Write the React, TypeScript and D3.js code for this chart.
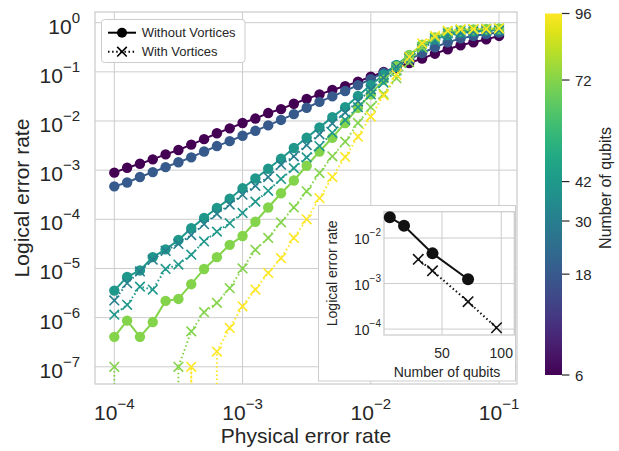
import React from "react";
import * as d3 from "d3";

// physical error rates (10 points per decade)
const physicalErrorRates = [
  1e-4, 1.259e-4, 1.585e-4, 1.995e-4, 2.512e-4, 3.162e-4, 3.981e-4, 5.012e-4, 6.31e-4, 7.943e-4,
  1e-3, 1.259e-3, 1.585e-3, 1.995e-3, 2.512e-3, 3.162e-3, 3.981e-3, 5.012e-3, 6.31e-3, 7.943e-3,
  1e-2, 1.259e-2, 1.585e-2, 1.995e-2, 2.512e-2, 3.162e-2, 3.981e-2, 5.012e-2, 6.31e-2, 7.943e-2,
  1e-1,
];

// logical error rates without vortices
const noVortex6 = [
  8.9e-4, 1.12e-3, 1.35e-3, 1.66e-3, 2.09e-3, 2.57e-3, 3.31e-3, 4.27e-3, 5.62e-3, 7.08e-3,
  9.12e-3, 1.12e-2, 1.45e-2, 1.74e-2, 2.24e-2, 2.82e-2, 3.47e-2, 4.27e-2, 5.13e-2, 6.31e-2,
  7.94e-2, 0.1, 0.12, 0.151, 0.186, 0.234, 0.288, 0.347, 0.398, 0.457, 0.537,
];
const noVortex18 = [
  4.68e-4, 5.62e-4, 7.24e-4, 9.12e-4, 1.15e-3, 1.45e-3, 1.82e-3, 2.4e-3, 3.09e-3, 3.89e-3,
  5.01e-3, 6.31e-3, 8.13e-3, 1.05e-2, 1.38e-2, 1.86e-2, 2.45e-2, 3.16e-2, 4.07e-2, 5.37e-2,
  7.08e-2, 9.55e-2, 0.132, 0.178, 0.24, 0.316, 0.398, 0.479, 0.537, 0.589, 0.631,
];
const noVortex42 = [
  3.55e-6, 6.76e-6, 9.12e-6, 1.7e-5, 2.45e-5, 3.8e-5, 6.61e-5, 1.07e-4, 1.7e-4, 2.63e-4,
  4.27e-4, 6.76e-4, 1.07e-3, 1.7e-3, 2.82e-3, 4.57e-3, 7.41e-3, 1.2e-2, 1.91e-2, 3.24e-2,
  5.37e-2, 8.71e-2, 0.138, 0.219, 0.331, 0.457, 0.562, 0.631, 0.661, 0.692, 0.708,
];
const noVortex72 = [
  4.07e-7, 8.71e-7, 4.07e-7, 8.13e-7, 2.19e-6, 2.4e-6, 4.79e-6, 9.77e-6, 1.7e-5, 3.02e-5,
  4.57e-5, 8.91e-5, 1.74e-4, 3.39e-4, 6.17e-4, 1.23e-3, 2.4e-3, 4.57e-3, 9.12e-3, 1.86e-2,
  3.47e-2, 6.92e-2, 0.129, 0.219, 0.355, 0.501, 0.631, 0.692, 0.724, 0.741, 0.759,
];

// logical error rates with vortices (0 = no logical error observed)
const vortex30 = [
  2.24e-6, 5.01e-6, 8.71e-6, 1.51e-5, 2.29e-5, 3.16e-5, 4.79e-5, 7.94e-5, 1.29e-4, 2.0e-4,
  3.16e-4, 4.79e-4, 7.24e-4, 1.29e-3, 1.91e-3, 3.24e-3, 5.37e-3, 8.91e-3, 1.48e-2, 2.51e-2,
  4.37e-2, 7.59e-2, 0.126, 0.2, 0.302, 0.417, 0.525, 0.603, 0.646, 0.676, 0.692,
];
const vortex42 = [
  1.15e-6, 1.82e-6, 4.27e-6, 3.72e-6, 9.77e-6, 1.2e-5, 1.91e-5, 3.55e-5, 5.62e-5, 8.32e-5,
  1.35e-4, 2.29e-4, 3.8e-4, 6.61e-4, 1.1e-3, 1.82e-3, 3.09e-3, 5.75e-3, 1.05e-2, 1.91e-2,
  3.47e-2, 6.03e-2, 0.107, 0.191, 0.316, 0.468, 0.603, 0.676, 0.708, 0.724, 0.741,
];
const vortex72 = [
  1e-7, 0, 0, 0, 0, 1e-7, 5.25e-7, 1.29e-6, 2.0e-6, 3.98e-6,
  1.0e-5, 2.4e-5, 4.17e-5, 8.71e-5, 1.74e-4, 3.72e-4, 8.71e-4, 1.91e-3, 3.8e-3, 9.12e-3,
  1.91e-2, 3.55e-2, 7.41e-2, 0.158, 0.316, 0.501, 0.661, 0.724, 0.741, 0.759, 0.767,
];
const vortex96 = [
  0, 0, 0, 0, 0, 0, 1e-7, 0, 2.04e-7, 6.17e-7,
  1.7e-6, 3.72e-6, 8.13e-6, 1.62e-5, 4.17e-5, 1.0e-4, 2.69e-4, 7.24e-4, 1.86e-3, 4.79e-3,
  1.23e-2, 3.31e-2, 8.71e-2, 0.2, 0.38, 0.537, 0.692, 0.733, 0.741, 0.741, 0.767,
];

const seriesNoVortex = [
  { qubits: 6, values: noVortex6 },
  { qubits: 18, values: noVortex18 },
  { qubits: 42, values: noVortex42 },
  { qubits: 72, values: noVortex72 },
];
const seriesVortex = [
  { qubits: 30, values: vortex30 },
  { qubits: 42, values: vortex42 },
  { qubits: 72, values: vortex72 },
  { qubits: 96, values: vortex96 },
];

// inset: logical error rate vs number of qubits
const insetQubitsNoVortex = [6, 18, 42, 72];
const insetErrNoVortex = [0.0285, 0.0186, 0.0046, 0.00124];
const insetQubitsVortex = [30, 42, 72, 96];
const insetErrVortex = [0.0034, 0.0019, 0.0004, 0.000107];

const xTicks = [1e-4, 1e-3, 1e-2, 1e-1];
const yTicks = [1, 1e-1, 1e-2, 1e-3, 1e-4, 1e-5, 1e-6, 1e-7];
const cbarTicks = [6, 18, 30, 42, 72, 96];
const cbarTickFrac = [0, 0.279, 0.426, 0.535, 0.816, 1];
const insetXTicks = [50, 100];
const insetYTicks = [1e-2, 1e-3, 1e-4];

const FONT = "Liberation Sans, Arial, Helvetica, sans-serif";
const TXT = "#262626";
const GRID = "#cccccc";

function expo(t: number) {
  const e = Math.round(Math.log10(t));
  return e < 0 ? "\u2212" + Math.abs(e) : String(e);
}

function cross(cx: number, cy: number, s: number) {
  return `M${cx - s},${cy - s}L${cx + s},${cy + s}M${cx - s},${cy + s}L${cx + s},${cy - s}`;
}

export default function App() {
  // main axes
  const x = d3.scaleLog().domain([Math.pow(10, -4.1505), Math.pow(10, -0.86)]).range([95, 517]);
  const y = d3.scaleLog().domain([Math.pow(10, -7.35), Math.pow(10, 0.217)]).range([384, 12]);
  const yv = (v: number) => (v > 0 ? y(v) : y(1e-300));
  const [x0, x1] = x.range();
  const [y0, y1] = y.range();

  const cFrac = d3.scaleLinear().domain(cbarTicks).range(cbarTickFrac);
  const color = (q: number) => d3.interpolateViridis(cFrac(q));

  const line = d3
    .line<number>()
    .x((_, i) => x(physicalErrorRates[i]))
    .y((v) => yv(v));

  // colorbar
  const cbY = d3.scaleLinear().domain([0, 1]).range([375, 13.5]);
  const cbX = 545, cbW = 17;
  const stops = d3.range(0, 1.0001, 0.05);

  // inset
  const ix = d3.scaleLinear().domain([1.1, 111]).range([384, 514.3]);
  const iy = d3.scaleLog().domain([Math.pow(10, -4.13), Math.pow(10, -1.422)]).range([335, 211.7]);
  const insetLine = d3.line<number[]>().x((d) => ix(d[0])).y((d) => iy(d[1]));
  const insetNV = insetQubitsNoVortex.map((q, i) => [q, insetErrNoVortex[i]]);
  const insetV = insetQubitsVortex.map((q, i) => [q, insetErrVortex[i]]);

  return (
    <svg width={619} height={451} style={{ position: "absolute", left: 0, top: 0, background: "#fff" }} fontFamily={FONT}>
      <defs>
        <clipPath id="plotClip">
          <rect x={x0} y={y1} width={x1 - x0} height={y0 - y1} />
        </clipPath>
        <linearGradient id="viridisGrad" x1="0" y1="1" x2="0" y2="0">
          {stops.map((t) => (
            <stop key={t} offset={t} stopColor={d3.interpolateViridis(t)} />
          ))}
        </linearGradient>
      </defs>
      <rect width={619} height={451} fill="#fff" />

      {/* grid */}
      {xTicks.map((t) => (
        <line key={"gx" + t} x1={x(t)} x2={x(t)} y1={y1} y2={y0} stroke={GRID} strokeWidth={1} />
      ))}
      {yTicks.map((t) => (
        <line key={"gy" + t} x1={x0} x2={x1} y1={y(t)} y2={y(t)} stroke={GRID} strokeWidth={1} />
      ))}
      <rect x={x0} y={y1} width={x1 - x0} height={y0 - y1} fill="none" stroke={GRID} strokeWidth={1.25} />

      {/* series */}
      <g clipPath="url(#plotClip)">
        {seriesNoVortex.map((s) => (
          <g key={"nv" + s.qubits}>
            <path d={line(s.values) || ""} fill="none" stroke={color(s.qubits)} strokeWidth={2} />
            {s.values.map((v, i) =>
              v > 0 ? <circle key={i} cx={x(physicalErrorRates[i])} cy={y(v)} r={5.2} fill={color(s.qubits)} /> : null
            )}
          </g>
        ))}
        {seriesVortex.map((s) => (
          <g key={"v" + s.qubits}>
            <path d={line(s.values) || ""} fill="none" stroke={color(s.qubits)} strokeWidth={2} strokeDasharray="1.5,2.6" />
            {s.values.map((v, i) =>
              v > 0 ? (
                <path key={i} d={cross(x(physicalErrorRates[i]), y(v), 4.8)} stroke={color(s.qubits)} strokeWidth={1.6} fill="none" />
              ) : null
            )}
          </g>
        ))}
      </g>

      {/* tick labels */}
      {xTicks.map((t) => (
        <text key={"tx" + t} x={x(t)} y={420} textAnchor="middle" fontSize={21} fill={TXT}>
          <tspan>10</tspan>
          <tspan dy={-11} fontSize={15}>{expo(t)}</tspan>
        </text>
      ))}
      {yTicks.map((t) => (
        <text key={"ty" + t} x={80} y={y(t) + 11} textAnchor="end" fontSize={21} fill={TXT}>
          <tspan>10</tspan>
          <tspan dy={-11} fontSize={15}>{expo(t)}</tspan>
        </text>
      ))}
      <text x={(x0 + x1) / 2} y={443} textAnchor="middle" fontSize={21} fill={TXT}>
        Physical error rate
      </text>
      <text transform={`translate(28.5,${(y0 + y1) / 2}) rotate(-90)`} textAnchor="middle" fontSize={21} fill={TXT}>
        Logical error rate
      </text>

      {/* legend */}
      <g>
        <rect x={101.5} y={19.5} width={143.5} height={43} rx={3} fill="#fff" stroke={GRID} strokeWidth={1} />
        <line x1={108} x2={136} y1={32.7} y2={32.7} stroke="#000" strokeWidth={2} />
        <circle cx={122} cy={32.7} r={5} fill="#000" />
        <text x={141.7} y={37.3} fontSize={13} fill={TXT}>Without Vortices</text>
        <line x1={108} x2={136} y1={51.7} y2={51.7} stroke="#000" strokeWidth={2} strokeDasharray="1.5,2.6" />
        <path d={cross(122, 51.7, 4.8)} stroke="#000" strokeWidth={1.6} fill="none" />
        <text x={141.7} y={56.3} fontSize={13} fill={TXT}>With Vortices</text>
      </g>

      {/* inset */}
      <g>
        <rect x={318.5} y={205.5} width={197} height={175.5} fill="#fff" stroke={GRID} strokeWidth={1} />
        {insetXTicks.map((t) => (
          <line key={"igx" + t} x1={ix(t)} x2={ix(t)} y1={211.7} y2={335} stroke={GRID} strokeWidth={1} />
        ))}
        {insetYTicks.map((t) => (
          <line key={"igy" + t} x1={384} x2={514.3} y1={iy(t)} y2={iy(t)} stroke={GRID} strokeWidth={1} />
        ))}
        <rect x={384} y={211.7} width={130.3} height={123.3} fill="none" stroke={GRID} strokeWidth={1.25} />
        <path d={insetLine(insetNV) || ""} fill="none" stroke="#111" strokeWidth={2} />
        {insetNV.map((d, i) => (
          <circle key={"inv" + i} cx={ix(d[0])} cy={iy(d[1])} r={6} fill="#111" />
        ))}
        <path d={insetLine(insetV) || ""} fill="none" stroke="#111" strokeWidth={2} strokeDasharray="1.5,2.6" />
        {insetV.map((d, i) => (
          <path key={"iv" + i} d={cross(ix(d[0]), iy(d[1]), 5.2)} stroke="#111" strokeWidth={1.6} fill="none" />
        ))}
        {insetXTicks.map((t) => (
          <text key={"itx" + t} x={ix(t)} y={358.3} textAnchor="middle" fontSize={14} fill={TXT}>
            {t}
          </text>
        ))}
        {insetYTicks.map((t) => (
          <text key={"ity" + t} x={381} y={iy(t) + 6.3} textAnchor="end" fontSize={14} fill={TXT}>
            <tspan>10</tspan>
            <tspan dy={-8} fontSize={10}>{expo(t)}</tspan>
          </text>
        ))}
        <text x={447} y={376.7} textAnchor="middle" fontSize={14} fill={TXT}>
          Number of qubits
        </text>
        <text transform={`translate(336.5,273.3) rotate(-90)`} textAnchor="middle" fontSize={14} fill={TXT}>
          Logical error rate
        </text>
      </g>

      {/* colorbar */}
      <rect x={cbX} y={cbY(1)} width={cbW} height={cbY(0) - cbY(1)} fill="url(#viridisGrad)" />
      {cbarTicks.map((q) => (
        <g key={"cb" + q}>
          <line x1={cbX + cbW} x2={cbX + cbW + 7.5} y1={cbY(cFrac(q))} y2={cbY(cFrac(q))} stroke={TXT} strokeWidth={1.2} />
          <text x={575} y={cbY(cFrac(q)) + 5.5} fontSize={15} fill={TXT}>
            {q}
          </text>
        </g>
      ))}
      <text transform={`translate(611,188) rotate(-90)`} textAnchor="middle" fontSize={16} fill={TXT}>
        Number of qubits
      </text>
    </svg>
  );
}
